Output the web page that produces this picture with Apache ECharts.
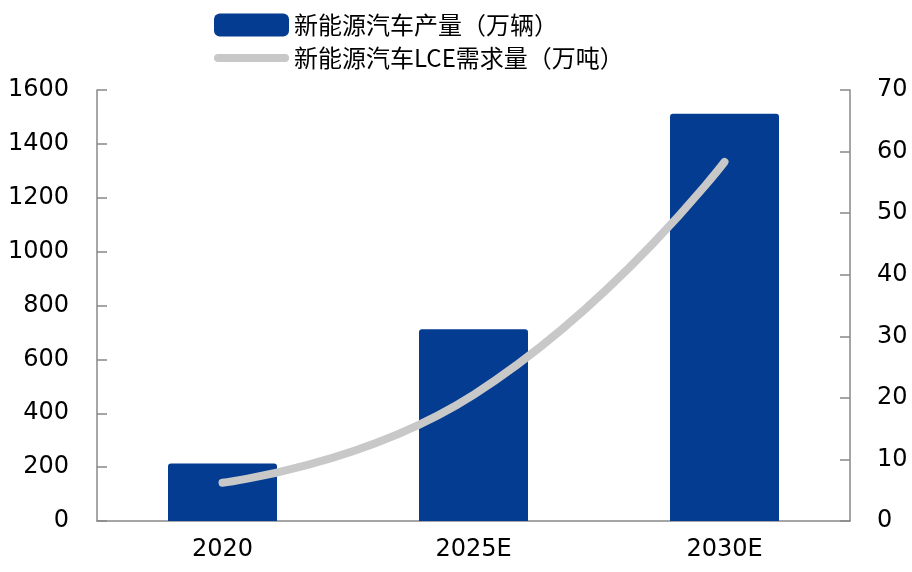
<!DOCTYPE html>
<html>
<head>
<meta charset="utf-8">
<script src="https://cdn.jsdelivr.net/npm/echarts@6/dist/echarts.min.js"></script>
<style>html,body{margin:0;padding:0;background:#fff;}#c{width:912px;height:572px;}</style>
</head>
<body>
<div id="c"></div>
<script>
const categories = ['2020', '2025E', '2030E'];
const production = [213, 712, 1512];
const lceDemand = [6.2, 20.5, 58.3];
const leftTicks = [0, 1600, 200];
const rightTicks = [0, 70, 10];
const barName = '新能源汽车产量（万辆）';
const lineName = '新能源汽车LCE需求量（万吨）';

const chart = echarts.init(document.getElementById('c'));
const axisFont = { fontFamily: 'DejaVu Sans', fontSize: 24, color: '#000' };
chart.setOption({
  animation: false,
  backgroundColor: '#fff',
  legend: {
    orient: 'vertical',
    left: 214,
    top: 13,
    padding: 0,
    itemWidth: 75,
    itemHeight: 23,
    itemGap: 9,
    symbolKeepAspect: true,
    textStyle: { fontFamily: 'Noto Sans CJK SC', fontSize: 24, color: '#000' },
    data: [
      { name: barName, icon: 'roundRect' },
      { name: lineName, icon: 'path://M4,0 H71 A4,4 0 0 1 71,8 H4 A4,4 0 0 1 4,0 Z', itemStyle: { color: '#c8c8c8' } }
    ]
  },
  grid: { left: 97, right: 62, top: 90, bottom: 51 },
  xAxis: {
    type: 'category',
    data: categories,
    axisLine: { lineStyle: { color: '#888', width: 1.5 } },
    axisTick: { show: false },
    axisLabel: Object.assign({ margin: 17 }, axisFont)
  },
  yAxis: [
    {
      type: 'value', min: leftTicks[0], max: leftTicks[1], interval: leftTicks[2],
      splitLine: { show: false },
      axisLine: { show: true, lineStyle: { color: '#888', width: 1.5 } },
      axisTick: { show: true, inside: true, length: 10, lineStyle: { color: '#888', width: 1.5 } },
      axisLabel: Object.assign({ margin: 28, formatter: v => String(v) }, axisFont)
    },
    {
      type: 'value', min: rightTicks[0], max: rightTicks[1], interval: rightTicks[2],
      splitLine: { show: false },
      axisLine: { show: true, lineStyle: { color: '#888', width: 1.5 } },
      axisTick: { show: true, inside: true, length: 10, lineStyle: { color: '#888', width: 1.5 } },
      axisLabel: Object.assign({ margin: 27, formatter: v => String(v) }, axisFont)
    }
  ],
  series: [
    {
      name: barName,
      type: 'bar',
      data: production,
      barWidth: 109,
      itemStyle: { color: '#033c91', borderRadius: [3, 3, 0, 0] }
    },
    {
      name: lineName,
      type: 'line',
      yAxisIndex: 1,
      data: lceDemand,
      smooth: true,
      symbol: 'none',
      lineStyle: { color: '#c8c8c8', width: 8, cap: 'round' },
      itemStyle: { color: '#c8c8c8' }
    }
  ]
});
</script>
</body>
</html>
